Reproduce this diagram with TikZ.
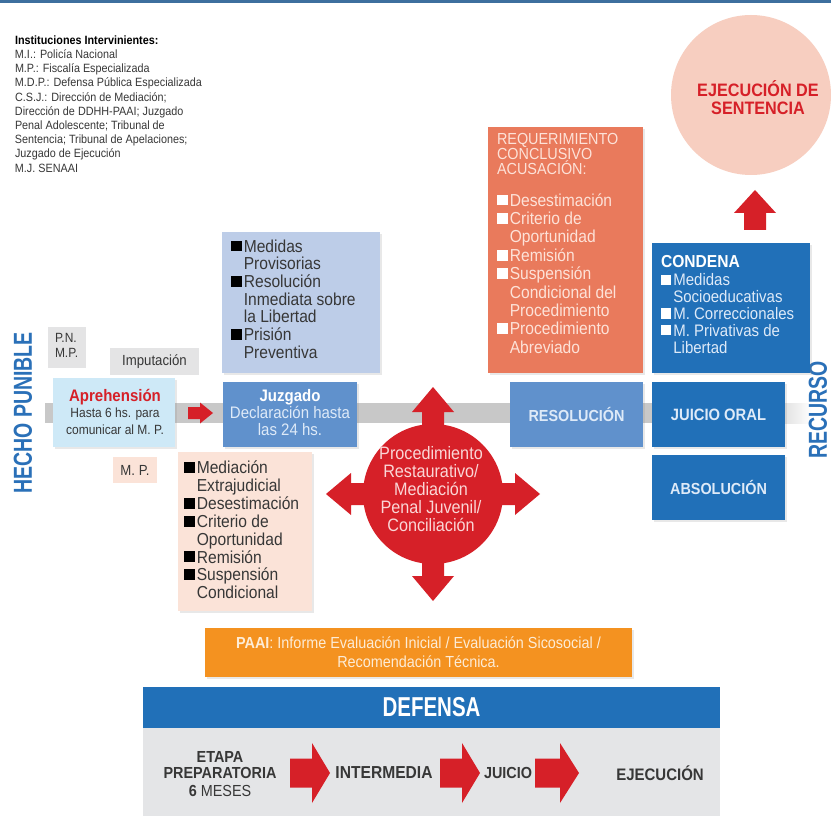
\documentclass[tikz,border=0pt]{standalone}
\usepackage{fontspec}
\setmainfont{Liberation Sans}[FakeStretch=0.9]
\newfontfamily\narrowf{Liberation Sans}[FakeStretch=0.75]
\usetikzlibrary{calc,shadows}
\definecolor{topline}{RGB}{61,111,158}
\definecolor{dkblue}{RGB}{33,112,184}
\definecolor{mdblue}{RGB}{96,145,204}
\definecolor{ltblue}{RGB}{189,205,232}
\definecolor{aprblue}{RGB}{206,233,247}
\definecolor{gbox}{RGB}{228,228,229}
\definecolor{peach}{RGB}{251,227,216}
\definecolor{salmon}{RGB}{233,122,92}
\definecolor{bred}{RGB}{214,32,40}
\definecolor{ejec}{RGB}{247,206,192}
\definecolor{paaic}{RGB}{244,146,32}
\definecolor{panelc}{RGB}{228,229,231}
\definecolor{hblue}{RGB}{42,112,184}
\definecolor{txt}{RGB}{55,55,55}
\definecolor{bartone}{RGB}{200,200,200}
\definecolor{lighttxt}{RGB}{222,234,248}
\definecolor{pinktxt}{RGB}{253,226,216}
\definecolor{circtxt}{RGB}{250,214,214}
\definecolor{creamtxt}{RGB}{253,236,214}
\newcommand{\sqm}[1]{\textcolor{#1}{\rule[0.05em]{0.62em}{0.62em}}\hspace{0.12em}}
\newcommand{\cont}{\hspace*{0.74em}}
\tikzset{
  bx/.style={inner sep=0pt, outer sep=0pt, draw=none},
  shd/.style={drop shadow={shadow xshift=1.2pt, shadow yshift=-1.2pt, opacity=0.18, fill=gray}},
  tx/.style={inner sep=0pt, outer sep=0pt},
  pics/barrow/.style n args={4}{code={
    \fill[bred] (0,-#1) -- (#3,-#1) -- (#3,-#2) -- (#4,0) -- (#3,#2) -- (#3,#1) -- (0,#1) -- cycle;
  }},
}
\begin{document}
\begin{tikzpicture}[x=0.75pt,y=-0.75pt]
\useasboundingbox (0,0) rectangle (831,816);
\fill[white] (0,0) rectangle (831,816);
% top line
\fill[topline] (0,0) rectangle (831,3.5);

% institutions text
\node[tx, anchor=west, align=left, text=txt, font=\fontsize{9}{10.65}\selectfont] (inst) at (15,104)
{\textcolor{black}{\bfseries Instituciones Intervinientes:}\\
M.I.: Policía Nacional\\
M.P.: Fiscalía Especializada\\
M.D.P.: Defensa Pública Especializada\\
C.S.J.: Dirección de Mediación;\\
Dirección de DDHH-PAAI; Juzgado\\
Penal Adolescente; Tribunal de\\
Sentencia; Tribunal de Apelaciones;\\
Juzgado de Ejecución\\
M.J. SENAAI};

% grey bar
\fill[bartone] (45,403) rectangle (760,423);
\shade[left color=bartone, right color=white] (759.5,403) rectangle (812,423);

% vertical labels
\node[tx, rotate=90, text=hblue, font=\narrowf\bfseries\fontsize{19.5}{20}\selectfont] (hp) at (23,413) {HECHO PUNIBLE};
\node[tx, rotate=90, text=hblue, font=\narrowf\bfseries\fontsize{19.5}{20}\selectfont] (rec) at (818,410) {RECURSO};

% left boxes
\node[bx, fill=gbox, minimum width=28.5pt, minimum height=30.75pt] (pn) at (67,347.5) {};
\node[tx, anchor=west, align=left, text=txt, font=\fontsize{10}{11.25}\selectfont] at (55,345.5) {P.N.\\M.P.};
\node[bx, fill=gbox, minimum width=66.75pt, minimum height=20.25pt, text=txt, font=\fontsize{11}{12}\selectfont] (imp) at (154.5,361.5) {Imputación};
\node[bx, shd, fill=aprblue, minimum width=91.5pt, minimum height=51.75pt] (apr) at (114,412.5) {};
\node[tx, align=center, text=txt, font=\fontsize{10}{12.4}\selectfont] at (115,411.5)
{\textcolor{bred}{\bfseries\fontsize{12.5}{12.4}\selectfont Aprehensión}\\Hasta 6 hs. para\\comunicar al M. P.};
\node[bx, fill=peach, minimum width=33pt, minimum height=19.5pt, text=txt, font=\fontsize{11}{12}\selectfont] (mp) at (135,470) {M. P.};

% red arrow apr -> juz
\pic at ($(apr.east)+(13,0.5)$) {barrow={6}{10.5}{12}{25}};

% Medidas box
\node[bx, shd, fill=ltblue, minimum width=118.5pt, minimum height=105.75pt] (med) at (301,302.5) {};
\node[tx, anchor=west, align=left, text=txt, font=\fontsize{13}{13.25}\selectfont] at (231,299)
{\sqm{black}Medidas\\\cont Provisorias\\\sqm{black}Resolución\\\cont Inmediata sobre\\\cont la Libertad\\\sqm{black}Prisión\\\cont Preventiva};

% Juzgado box
\node[bx, shd, fill=mdblue, minimum width=100.5pt, minimum height=48.75pt] (juz) at (290,414.5) {};
\node[tx, align=center, text=lighttxt, font=\fontsize{12.5}{12.75}\selectfont] at (290,413)
{\textcolor{white}{\bfseries\fontsize{12.5}{12.75}\selectfont Juzgado}\\Declaración hasta\\las 24 hs.};

% peach list box
\node[bx, shd, fill=peach, minimum width=100.5pt, minimum height=119.25pt] (lst) at (245,531.5) {};
\node[tx, anchor=west, align=left, text=txt, font=\fontsize{13}{13.4}\selectfont] at (184,530)
{\sqm{black}Mediación\\\cont Extrajudicial\\\sqm{black}Desestimación\\\sqm{black}Criterio de\\\cont Oportunidad\\\sqm{black}Remisión\\\sqm{black}Suspensión\\\cont Condicional};

% red circle with four arrows
\node[bx, circle, fill=bred, minimum size=105pt] (rc) at (433,494) {};
\pic at (rc.center) {barrow={11}{21}{82}{107}};
\pic[rotate=90] at (rc.center) {barrow={11}{21}{82}{107}};
\pic[rotate=180] at (rc.center) {barrow={11}{21}{82}{107}};
\pic[rotate=-90] at (rc.center) {barrow={11}{21}{82}{107}};
\node[tx, align=center, text=circtxt, font=\fontsize{13.5}{13.5}\selectfont] at (431,489.5)
{Procedimiento\\Restaurativo/\\Mediación\\Penal Juvenil/\\Conciliación};

% Requerimiento box
\node[bx, shd, fill=salmon, minimum width=116.25pt, minimum height=184.5pt] (req) at (565.5,250) {};
\node[tx, anchor=west, align=left, text=pinktxt, font=\fontsize{12}{11.6}\selectfont] at (497,154)
{REQUERIMIENTO\\CONCLUSIVO\\ACUSACIÓN:};
\node[tx, anchor=west, align=left, text=pinktxt, font=\fontsize{13}{13.8}\selectfont] at (497,273.5)
{\sqm{white}Desestimación\\\sqm{white}Criterio de\\\cont Oportunidad\\\sqm{white}Remisión\\\sqm{white}Suspensión\\\cont Condicional del\\\cont Procedimiento\\\sqm{white}Procedimiento\\\cont Abreviado};

% Ejecucion circle
\node[bx, circle, fill=ejec, minimum size=120pt] (ej) at (751,95) {};
\node[tx, align=center, text=bred, font=\bfseries\fontsize{13.5}{13.5}\selectfont] at (758,98)
{EJECUCIÓN DE\\SENTENCIA};

% Condena box
\node[bx, shd, fill=dkblue, minimum width=118.5pt, minimum height=97.5pt] (con) at (731,308) {};
\node[tx, anchor=west, text=white, font=\bfseries\fontsize{13}{13}\selectfont] at (661,262) {CONDENA};
\node[tx, anchor=west, align=left, text=lighttxt, font=\fontsize{12.5}{12.6}\selectfont] at (661,313.5)
{\sqm{white}Medidas\\\cont Socioeducativas\\\sqm{white}M. Correccionales\\\sqm{white}M. Privativas de\\\cont Libertad};
\pic[rotate=90] at ($(con.north)+(24,-13)$) {barrow={11}{21}{17}{40}};

% Resolucion / Juicio / Absolucion
\node[bx, shd, fill=mdblue, minimum width=99.75pt, minimum height=48.75pt, text=lighttxt, font=\bfseries\fontsize{12}{12}\selectfont] (res) at (576.5,414.5) {RESOLUCIÓN};
\node[bx, shd, fill=dkblue, minimum width=99.75pt, minimum height=48.75pt, text=lighttxt, font=\bfseries\fontsize{12.3}{12}\selectfont] (jor) at (718.5,414.5) {JUICIO ORAL};
\node[bx, shd, fill=dkblue, minimum width=99.75pt, minimum height=48.75pt, text=lighttxt, font=\bfseries\fontsize{12}{12}\selectfont] (abs) at (718.5,487.5) {ABSOLUCIÓN};

% PAAI
\node[bx, shd, fill=paaic, minimum width=320.25pt, minimum height=36.75pt] (paai) at (418.5,652.5) {};
\node[tx, align=center, text=creamtxt, font=\fontsize{12}{14}\selectfont] at (418.5,652)
{\textbf{PAAI}: Informe Evaluación Inicial / Evaluación Sicosocial /\\Recomendación Técnica.};

% Defensa
\node[bx, fill=panelc, minimum width=432.75pt, minimum height=66pt] (pan) at (431.5,772) {};
\node[bx, fill=dkblue, minimum width=432.75pt, minimum height=30.75pt, text=white, font=\narrowf\bfseries\fontsize{20.5}{20}\selectfont] (def) at (431.5,707.5) {DEFENSA};
\node[tx, text=txt, font=\bfseries\fontsize{12}{12}\selectfont] (et1) at (220,757) {ETAPA};
\node[tx, text=txt, font=\bfseries\fontsize{12}{12}\selectfont] (et2) at (220,772.5) {PREPARATORIA};
\node[tx, text=txt, font=\fontsize{12}{12}\selectfont] (et3) at (220,791) {\textbf{6} MESES};
\node[tx, text=txt, font=\bfseries\fontsize{13}{13}\selectfont] (int) at (384,773) {INTERMEDIA};
\node[tx, text=txt, font=\bfseries\fontsize{12}{13}\selectfont] (jui) at (508,773) {JUICIO};
\node[tx, text=txt, font=\bfseries\fontsize{12.5}{13}\selectfont] (eje) at (660,773) {EJECUCIÓN};
\pic at ($(pan.west)+(147,1)$) {barrow={14.5}{30}{22}{40}};
\pic at ($(pan.west)+(297,1)$) {barrow={14.5}{30}{22}{40}};
\pic at ($(pan.west)+(392,1)$) {barrow={14.5}{30}{25}{44}};
\end{tikzpicture}
\end{document}
